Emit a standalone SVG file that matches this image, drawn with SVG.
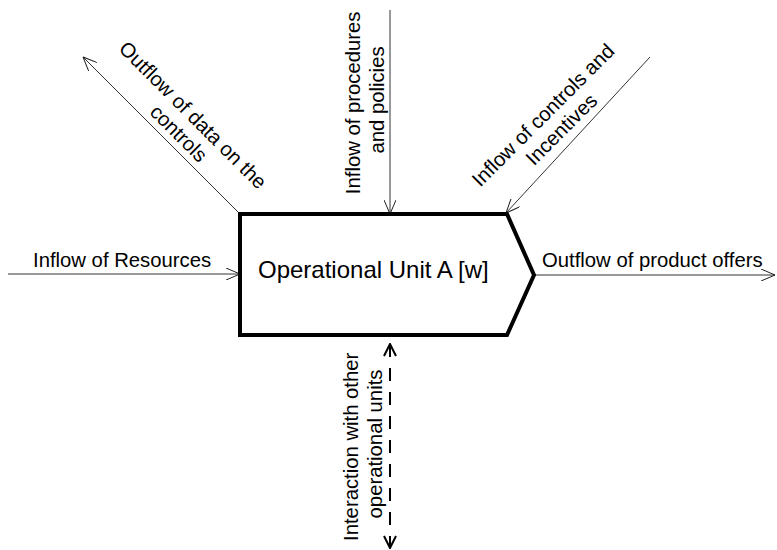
<svg xmlns="http://www.w3.org/2000/svg" width="777" height="550" viewBox="0 0 777 550">
  <defs>
    <marker id="vee" viewBox="0 0 14 12" refX="14" refY="6" markerWidth="14" markerHeight="12" markerUnits="userSpaceOnUse" orient="auto">
      <path d="M0,0 L14,6 L0,12" fill="none" stroke="#222" stroke-width="1"/>
    </marker>
    <marker id="veeBold" viewBox="0 0 14 14" refX="13" refY="7" markerWidth="14" markerHeight="14" markerUnits="userSpaceOnUse" orient="auto-start-reverse">
      <path d="M1,1 L13,7 L1,13" fill="none" stroke="#000" stroke-width="2"/>
    </marker>
    <style>
      .flow { stroke: #333; stroke-width: 1; fill: none; marker-end: url(#vee); }
      .link { stroke: #000; stroke-width: 2; fill: none; stroke-dasharray: 13 11; marker-start: url(#veeBold); marker-end: url(#veeBold); }
      .lbl { font-family: "Liberation Sans", Arial, sans-serif; font-size: 20.3px; fill: #000; }
      .unit { font-family: "Liberation Sans", Arial, sans-serif; font-size: 24px; fill: #000; }
    </style>
  </defs>

  <!-- connectors -->
  <g id="connectors">
    <line class="flow" x1="240" y1="214" x2="83" y2="57"/>
    <line class="flow" x1="390" y1="10" x2="390" y2="214"/>
    <line class="flow" x1="650" y1="57" x2="506" y2="213"/>
    <line class="flow" x1="8" y1="274" x2="240" y2="274"/>
    <line class="flow" x1="535" y1="275" x2="775" y2="275"/>
    <line class="link" x1="390" y1="344" x2="390" y2="548"/>
  </g>

  <!-- operational unit -->
  <g id="unit-a">
    <path d="M240,214 L507,214 L534,275 L507,335 L240,335 Z" fill="#fff" stroke="#000" stroke-width="4" stroke-linejoin="miter"/>
    <text class="unit" x="258" y="278">Operational Unit A [w]</text>
  </g>

  <!-- flow labels -->
  <g id="label-outflow-data">
    <text class="lbl" text-anchor="middle" transform="translate(190,122) rotate(45)">
      <tspan x="0" y="0">Outflow of data on the</tspan>
      <tspan x="0" y="23">controls</tspan>
    </text>
  </g>
  <g id="label-procedures">
    <text class="lbl" text-anchor="middle" transform="translate(360,100) rotate(-90)">
      <tspan x="0" y="0">Inflow of procedures</tspan>
      <tspan x="0" y="24">and policies</tspan>
    </text>
  </g>
  <g id="label-controls">
    <text class="lbl" text-anchor="middle" transform="translate(550,118) rotate(-45)">
      <tspan x="0" y="0">Inflow of controls and</tspan>
      <tspan x="0" y="23">Incentives</tspan>
    </text>
  </g>
  <g id="label-resources">
    <text class="lbl" x="33" y="267">Inflow of Resources</text>
  </g>
  <g id="label-products">
    <text class="lbl" x="542" y="267">Outflow of product offers</text>
  </g>
  <g id="label-interaction">
    <text class="lbl" text-anchor="middle" transform="translate(358,444) rotate(-90)">
      <tspan x="0" y="0">Interaction with other</tspan>
      <tspan x="0" y="24">operational units</tspan>
    </text>
  </g>
</svg>
